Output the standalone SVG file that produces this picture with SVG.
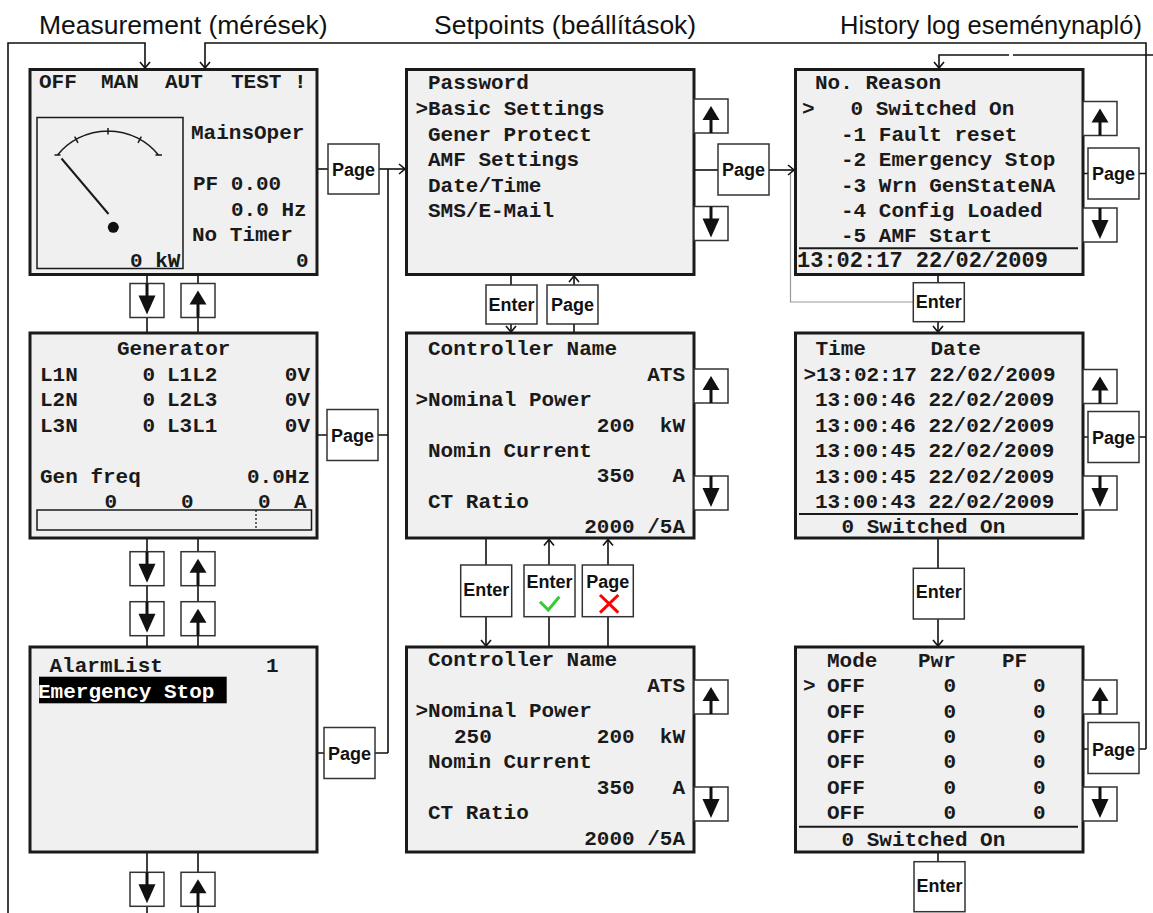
<svg xmlns="http://www.w3.org/2000/svg" width="1153" height="913" viewBox="0 0 1153 913" xml:space="preserve">
<style>
.panel{fill:#f0f0f0;stroke:#1a1a1a;stroke-width:3}
.btn{fill:#fff;stroke:#333;stroke-width:1.5}
.c path{fill:none;stroke:#111;stroke-width:1.6}
.m{font-family:"Liberation Mono","Courier New",monospace;font-weight:bold;font-size:21px;fill:#1a1a1a;white-space:pre}
.e{text-anchor:end}
.b{font-family:"Liberation Sans",Arial,sans-serif;font-weight:bold;font-size:18px;text-anchor:middle;fill:#111}
.t{font-family:"Liberation Sans",Arial,sans-serif;font-size:26.5px;fill:#111}
.g{fill:none;stroke:#1a1a1a;stroke-width:1.5}
</style>
<defs>
<marker id="ah" viewBox="-7 -6 8 12" refX="0" refY="0" markerWidth="8" markerHeight="12" markerUnits="userSpaceOnUse" orient="auto"><path d="M-6,-5 L0,0 L-6,5" fill="none" stroke="#111" stroke-width="1.6"/></marker>
<g id="dnA" fill="#111"><rect x="-1.5" y="0" width="3" height="13"/><polygon points="-8.5,12 8.5,12 0,31"/></g>
<g id="upA" fill="#111"><polygon points="0,7 -8.5,21 8.5,21"/><rect x="-1.5" y="20" width="3" height="14"/></g>
</defs>
<rect width="1153" height="913" fill="#fff"/>

<g id="titles">
<text class="t" x="39" y="34">Measurement (mérések)</text>
<text class="t" x="434" y="34">Setpoints (beállítások)</text>
<text class="t" x="840" y="34" style="font-size:25.5px">History log eseménynapló)</text>
</g>

<g id="connectors" class="c">
<path d="M8,913 V43 H145 V68" marker-end="url(#ah)"/>
<path d="M1146,749 V43 H205 V68" marker-end="url(#ah)"/>
<path d="M1153,55 H1013"/>
<path d="M1009,55 H939 V68" marker-end="url(#ah)"/>
<path d="M147,274.5 V283.5 M147,317.5 V333 M147,538 V551.7 M147,585.7 V601.7 M147,635.7 V647 M147,852 V872.3 M147,906.3 V913"/>
<path d="M198,274.5 V283.5 M198,317.5 V333 M198,538 V551.7 M198,585.7 V601.7 M198,635.7 V647 M198,852 V872.3 M198,906.3 V913"/>
<path d="M317,169 H328"/>
<path d="M379,169 H405" marker-end="url(#ah)"/>
<path d="M317,435 H327 M378,435 H388 M317,753 H324 M375,753 H388 M388,169 V753"/>
<path d="M694,170 H718"/>
<path d="M769,170 H794" marker-end="url(#ah)"/>
<path d="M511,274.5 V285"/>
<path d="M511,324 V332" marker-end="url(#ah)"/>
<path d="M574,333 V324"/>
<path d="M574,285 V276" marker-end="url(#ah)"/>
<path d="M486,538 V565"/>
<path d="M486,616.7 V646" marker-end="url(#ah)"/>
<path d="M549,647 V616.7"/>
<path d="M549,565 V539.5" marker-end="url(#ah)"/>
<path d="M608,647 V616.7"/>
<path d="M608,565 V539.5" marker-end="url(#ah)"/>
<path d="M938,274.5 V282.7"/>
<path d="M938,321.7 V332" marker-end="url(#ah)"/>
<path d="M938,538 V568.3"/>
<path d="M938,619 V646" marker-end="url(#ah)"/>
<path d="M938,852 V861.7"/>
<path d="M1083,173.5 H1088 M1139,173.5 H1146 M1083,437 H1088 M1139,437 H1146 M1083,749 H1088 M1139,749 H1146"/>
<path d="M913,302 H790.5 V174" style="stroke:#999;stroke-width:1.2"/>
</g>

<g id="measurement">
<rect class="panel" x="30" y="69.5" width="287" height="205"/>
<text class="m" x="39" y="88">OFF</text>
<text class="m" x="101" y="88">MAN</text>
<text class="m" x="165" y="88">AUT</text>
<text class="m" x="231" y="88">TEST !</text>
<rect class="g" x="37" y="117.5" width="146" height="151"/>
<path class="g" d="M57.5,155 A65,65 0 0 1 158.5,155 M54.5,155 H60.5 M155.5,155 H162 M78,142.8 L74.7,136.7 M108,128 V134.5 M138,142.8 L141.3,136.7"/>
<path d="M61.5,158.5 L108.5,214" stroke="#1a1a1a" stroke-width="2"/>
<circle cx="113.3" cy="227.3" r="5.5" fill="#111"/>
<text class="m" x="130" y="266.5">0 kW</text>
<text class="m" x="191" y="139">MainsOper</text>
<text class="m" x="193" y="190">PF 0.00</text>
<text class="m" x="231" y="216">0.0 Hz</text>
<text class="m" x="192" y="241">No Timer</text>
<text class="m e" x="308.5" y="266.5">0</text>
</g>

<g id="btn-meas-down"><rect class="btn" x="130" y="283.5" width="34" height="34"/><use href="#dnA" x="147" y="283.5"/></g>
<g id="btn-meas-up"><rect class="btn" x="181" y="283.5" width="34" height="34"/><use href="#upA" x="198" y="283.5"/></g>
<g id="page-meas"><rect class="btn" x="328" y="144" width="51" height="50"/><text class="b" x="353.5" y="175.5">Page</text></g>

<g id="generator">
<rect class="panel" x="30" y="333" width="287" height="205"/>
<text class="m" x="117" y="355">Generator</text>
<text class="m" x="40" y="380.5">L1N</text><text class="m" x="142.5" y="380.5">0</text><text class="m" x="167" y="380.5">L1L2</text><text class="m e" x="310" y="380.5">0V</text>
<text class="m" x="40" y="406">L2N</text><text class="m" x="142.5" y="406">0</text><text class="m" x="167" y="406">L2L3</text><text class="m e" x="310" y="406">0V</text>
<text class="m" x="40" y="431.5">L3N</text><text class="m" x="142.5" y="431.5">0</text><text class="m" x="167" y="431.5">L3L1</text><text class="m e" x="310" y="431.5">0V</text>
<text class="m" x="40" y="482.5">Gen freq</text><text class="m e" x="310" y="482.5">0.0Hz</text>
<text class="m" x="104.5" y="508">0</text><text class="m" x="181" y="508">0</text><text class="m" x="258" y="508">0</text><text class="m" x="294" y="508">A</text>
<rect class="g" x="37" y="510" width="274.5" height="20"/>
<path d="M256,510 V530" stroke="#1a1a1a" stroke-width="1.3" stroke-dasharray="2,2"/>
</g>
<g id="page-gen"><rect class="btn" x="327" y="409.5" width="51" height="51"/><text class="b" x="352.5" y="441.5">Page</text></g>

<g id="btn-gen-down1"><rect class="btn" x="130" y="551.7" width="34" height="34"/><use href="#dnA" x="147" y="551.7"/></g>
<g id="btn-gen-up1"><rect class="btn" x="181" y="551.7" width="34" height="34"/><use href="#upA" x="198" y="551.7"/></g>
<g id="btn-gen-down2"><rect class="btn" x="130" y="601.7" width="34" height="34"/><use href="#dnA" x="147" y="601.7"/></g>
<g id="btn-gen-up2"><rect class="btn" x="181" y="601.7" width="34" height="34"/><use href="#upA" x="198" y="601.7"/></g>

<g id="alarmlist">
<rect class="panel" x="30" y="647" width="287" height="205"/>
<text class="m" x="49.5" y="672.3">AlarmList</text>
<text class="m" x="266" y="672.3">1</text>
<rect x="39" y="676.7" width="187.7" height="26.6" fill="#000"/>
<text class="m" x="38" y="698.3" style="fill:#fff">Emergency Stop</text>
</g>
<g id="page-alarm"><rect class="btn" x="324" y="727.5" width="51" height="51"/><text class="b" x="349.5" y="759.5">Page</text></g>
<g id="btn-alarm-down"><rect class="btn" x="130" y="872.3" width="34" height="34"/><use href="#dnA" x="147" y="872.3"/></g>
<g id="btn-alarm-up"><rect class="btn" x="181" y="872.3" width="34" height="34"/><use href="#upA" x="198" y="872.3"/></g>

<g id="setpoints-menu">
<rect class="panel" x="406.5" y="69.5" width="287.5" height="205"/>
<text class="m" x="428" y="89.3">Password</text>
<text class="m" x="415.5" y="115">&gt;Basic Settings</text>
<text class="m" x="428" y="140.5">Gener Protect</text>
<text class="m" x="428" y="166">AMF Settings</text>
<text class="m" x="428" y="191.5">Date/Time</text>
<text class="m" x="428" y="217">SMS/E-Mail</text>
</g>
<g id="sp-up1"><rect class="btn" x="694" y="99" width="34" height="34"/><use href="#upA" x="711" y="99"/></g>
<g id="sp-down1"><rect class="btn" x="694" y="206.5" width="34" height="34"/><use href="#dnA" x="711" y="206.5"/></g>
<g id="page-sp"><rect class="btn" x="718" y="144" width="51" height="51"/><text class="b" x="743.5" y="176">Page</text></g>
<g id="enter-sp1"><rect class="btn" x="486" y="285" width="51" height="39"/><text class="b" x="511.5" y="311">Enter</text></g>
<g id="page-sp1"><rect class="btn" x="547" y="285" width="51" height="39"/><text class="b" x="572.5" y="311">Page</text></g>

<g id="setpoints-edit">
<rect class="panel" x="406.5" y="333" width="287.5" height="205"/>
<text class="m" x="428" y="355">Controller Name</text>
<text class="m e" x="685" y="380.5">ATS</text>
<text class="m" x="415.5" y="406">&gt;Nominal Power</text>
<text class="m e" x="685" y="431.7">200  kW</text>
<text class="m" x="428" y="457">Nomin Current</text>
<text class="m e" x="685" y="482.3">350   A</text>
<text class="m" x="428" y="507.7">CT Ratio</text>
<text class="m e" x="685" y="533.3">2000 /5A</text>
</g>
<g id="sp-up2"><rect class="btn" x="694" y="369" width="34" height="34"/><use href="#upA" x="711" y="369"/></g>
<g id="sp-down2"><rect class="btn" x="694" y="476" width="34" height="34"/><use href="#dnA" x="711" y="476"/></g>
<g id="enter-sp2"><rect class="btn" x="460.7" y="565" width="51" height="51.7"/><text class="b" x="486.2" y="596">Enter</text></g>
<g id="enter-ok"><rect class="btn" x="524" y="565" width="51" height="51.7"/><text class="b" x="549.5" y="588.3">Enter</text><path d="M540,601.7 L548.3,610 L559.3,596.7" fill="none" stroke="#3c3" stroke-width="3"/></g>
<g id="page-cancel"><rect class="btn" x="582.3" y="565" width="51" height="51.7"/><text class="b" x="607.8" y="588.3">Page</text><path d="M600,595 L618.3,612.7 M618.3,595 L600,612.7" fill="none" stroke="#f00" stroke-width="3"/></g>

<g id="setpoints-value">
<rect class="panel" x="406.5" y="647" width="287.5" height="205"/>
<text class="m" x="428" y="666">Controller Name</text>
<text class="m e" x="685" y="692.3">ATS</text>
<text class="m" x="415.5" y="717.3">&gt;Nominal Power</text>
<text class="m" x="454" y="742.7">250</text>
<text class="m e" x="685" y="742.7">200  kW</text>
<text class="m" x="428" y="768.3">Nomin Current</text>
<text class="m e" x="685" y="794">350   A</text>
<text class="m" x="428" y="819.3">CT Ratio</text>
<text class="m e" x="685" y="845">2000 /5A</text>
</g>
<g id="sp-up3"><rect class="btn" x="694" y="680" width="34" height="34"/><use href="#upA" x="711" y="680"/></g>
<g id="sp-down3"><rect class="btn" x="694" y="787" width="34" height="34"/><use href="#dnA" x="711" y="787"/></g>

<g id="history-list">
<rect class="panel" x="795.5" y="69.5" width="287.5" height="205"/>
<text class="m" x="815" y="89.3">No. Reason</text>
<text class="m" x="802" y="115">&gt;</text>
<text class="m" x="850.5" y="115">0 Switched On</text>
<text class="m" x="841" y="140.5">-1 Fault reset</text>
<text class="m" x="841" y="166">-2 Emergency Stop</text>
<text class="m" x="841" y="191.5">-3 Wrn GenStateNA</text>
<text class="m" x="841" y="217">-4 Config Loaded</text>
<text class="m" x="841" y="242">-5 AMF Start</text>
<path d="M799,248.3 H1078" stroke="#1a1a1a" stroke-width="2"/>
<text class="m" x="797" y="266.7" style="font-size:22px">13:02:17 22/02/2009</text>
</g>
<g id="hl-up1"><rect class="btn" x="1083" y="101.5" width="34" height="34"/><use href="#upA" x="1100" y="101.5"/></g>
<g id="hl-down1"><rect class="btn" x="1083" y="208" width="34" height="34"/><use href="#dnA" x="1100" y="208"/></g>
<g id="hl-page1"><rect class="btn" x="1088" y="148" width="51" height="51"/><text class="b" x="1113.5" y="180">Page</text></g>
<g id="hl-enter1"><rect class="btn" x="913.3" y="282.7" width="51" height="39"/><text class="b" x="938.8" y="307.5">Enter</text></g>

<g id="history-time">
<rect class="panel" x="795.5" y="333" width="287.5" height="205"/>
<text class="m" x="815.5" y="355">Time</text>
<text class="m" x="930.5" y="355">Date</text>
<text class="m" x="803.5" y="380.7">&gt;13:02:17 22/02/2009</text>
<text class="m" x="815" y="406.3">13:00:46 22/02/2009</text>
<text class="m" x="815" y="431.7">13:00:46 22/02/2009</text>
<text class="m" x="815" y="457.3">13:00:45 22/02/2009</text>
<text class="m" x="815" y="482.7">13:00:45 22/02/2009</text>
<text class="m" x="815" y="508.3">13:00:43 22/02/2009</text>
<path d="M799,514 H1078" stroke="#1a1a1a" stroke-width="2"/>
<text class="m" x="841.5" y="533.3">0 Switched On</text>
</g>
<g id="hl-up2"><rect class="btn" x="1083" y="369.5" width="34" height="34"/><use href="#upA" x="1100" y="369.5"/></g>
<g id="hl-down2"><rect class="btn" x="1083" y="476" width="34" height="34"/><use href="#dnA" x="1100" y="476"/></g>
<g id="hl-page2"><rect class="btn" x="1088" y="411.5" width="51" height="51"/><text class="b" x="1113.5" y="443.5">Page</text></g>
<g id="hl-enter2"><rect class="btn" x="913.3" y="568.3" width="51" height="50.7"/><text class="b" x="938.8" y="598.3">Enter</text></g>

<g id="history-mode">
<rect class="panel" x="795.5" y="647" width="287.5" height="205"/>
<text class="m" x="827" y="667.3">Mode</text><text class="m" x="918" y="667.3">Pwr</text><text class="m" x="1002" y="667.3">PF</text>
<text class="m" x="803" y="692.3">&gt;</text>
<text class="m" x="827" y="692.3">OFF</text><text class="m" x="943.5" y="692.3">0</text><text class="m" x="1033" y="692.3">0</text>
<text class="m" x="827" y="717.5">OFF</text><text class="m" x="943.5" y="717.5">0</text><text class="m" x="1033" y="717.5">0</text>
<text class="m" x="827" y="742.8">OFF</text><text class="m" x="943.5" y="742.8">0</text><text class="m" x="1033" y="742.8">0</text>
<text class="m" x="827" y="768">OFF</text><text class="m" x="943.5" y="768">0</text><text class="m" x="1033" y="768">0</text>
<text class="m" x="827" y="793.5">OFF</text><text class="m" x="943.5" y="793.5">0</text><text class="m" x="1033" y="793.5">0</text>
<text class="m" x="827" y="819">OFF</text><text class="m" x="943.5" y="819">0</text><text class="m" x="1033" y="819">0</text>
<path d="M799,826.7 H1078" stroke="#1a1a1a" stroke-width="2"/>
<text class="m" x="841.5" y="845.7">0 Switched On</text>
</g>
<g id="hl-up3"><rect class="btn" x="1083" y="680" width="34" height="34"/><use href="#upA" x="1100" y="680"/></g>
<g id="hl-down3"><rect class="btn" x="1083" y="787" width="34" height="34"/><use href="#dnA" x="1100" y="787"/></g>
<g id="hl-page3"><rect class="btn" x="1088" y="722.5" width="51" height="51"/><text class="b" x="1113.5" y="755.5">Page</text></g>
<g id="hl-enter3"><rect class="btn" x="914" y="861.7" width="51" height="50"/><text class="b" x="939.5" y="891.7">Enter</text></g>
</svg>
